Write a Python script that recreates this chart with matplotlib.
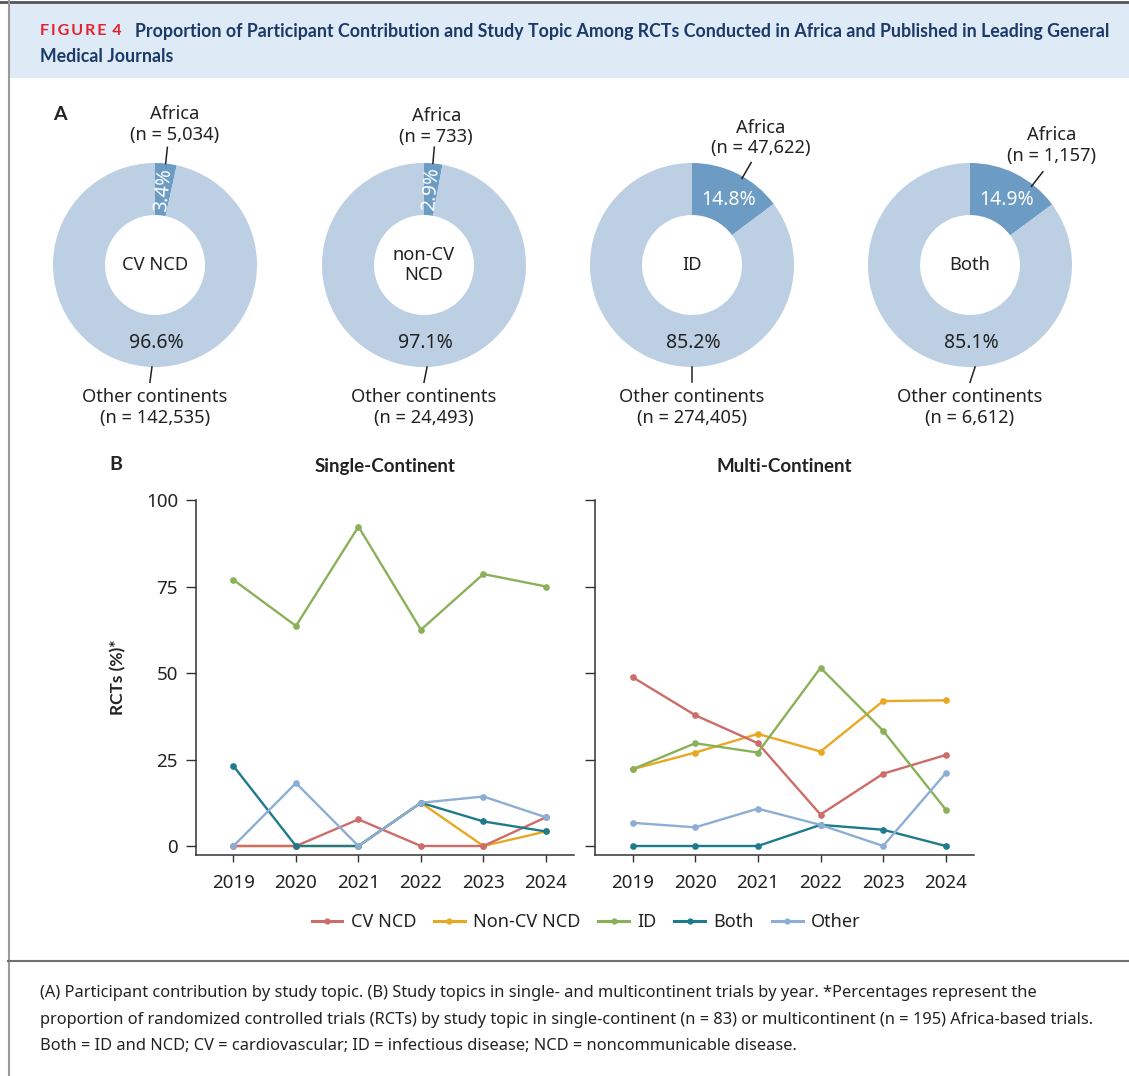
import matplotlib
matplotlib.use("Agg")
import matplotlib.pyplot as plt
from matplotlib.lines import Line2D
from matplotlib.patches import Rectangle
import numpy as np

plt.rcParams['font.family'] = ['Noto Sans', 'DejaVu Sans']
BOLD = ['Lato', 'DejaVu Sans']

# Panel A: participants by study topic
topics = ['CV NCD', 'non-CV\nNCD', 'ID', 'Both']
africa_n = [5034, 733, 47622, 1157]
other_n = [142535, 24493, 274405, 6612]

# Panel B: share of RCTs (%) by study topic and year
years = [2019, 2020, 2021, 2022, 2023, 2024]
series_names = ['CV NCD', 'Non-CV NCD', 'ID', 'Both', 'Other']
single = {
    'CV NCD':     [0, 0, 7.7, 0, 0, 8.3],
    'Non-CV NCD': [0, 0, 0, 12.5, 0, 4.2],
    'ID':         [76.9, 63.6, 92.3, 62.5, 78.6, 75.0],
    'Both':       [23.1, 0, 0, 12.5, 7.1, 4.2],
    'Other':      [0, 18.2, 0, 12.5, 14.3, 8.3],
}
multi = {
    'CV NCD':     [48.8, 37.8, 29.7, 9.1, 20.9, 26.3],
    'Non-CV NCD': [22.2, 27.0, 32.4, 27.3, 41.9, 42.1],
    'ID':         [22.2, 29.7, 27.0, 51.5, 33.3, 10.5],
    'Both':       [0, 0, 0, 6.1, 4.7, 0],
    'Other':      [6.7, 5.4, 10.8, 6.1, 0, 21.1],
}

colors = {'CV NCD': '#cc6d6a', 'Non-CV NCD': '#e9a823', 'ID': '#8ab15a',
          'Both': '#1e7b8c', 'Other': '#8daed4'}
zorders = {'Non-CV NCD': 2, 'CV NCD': 3, 'ID': 4, 'Both': 5, 'Other': 6}
dark_blue, light_blue = '#6c9bc4', '#bccfe3'
text_c = '#222222'

W, H = 1129, 1076
fig = plt.figure(figsize=(W / 100, H / 100), dpi=100)


def box(x0, y0, x1, y1):
    # pixel box (top-left origin) -> figure fraction rect
    return [x0 / W, 1 - y1 / H, (x1 - x0) / W, (y1 - y0) / H]


# frame, header band and caption divider
bg = fig.add_axes([0, 0, 1, 1])
bg.set_xlim(0, W)
bg.set_ylim(H, 0)
bg.axis('off')
bg.add_patch(Rectangle((8, 3), W - 8, 75, color='#deeaf6', lw=0))
bg.plot([0, W], [1.5, 1.5], color='#555555', lw=2)
bg.plot([8.5, 8.5], [0, H], color='#9a9a9a', lw=1.5)
bg.plot([8, W], [961, 961], color='#6e6e6e', lw=1.5)

bg.text(40, 31, '\u2009'.join('FIGURE') + '\u2009 4', color='#e4202f',
        fontsize=11.5, fontweight='bold', va='center', ha='left', family=BOLD)
bg.text(135, 31, 'Proportion of Participant Contribution and Study Topic Among RCTs '
        'Conducted in Africa and Published in Leading General',
        color='#1b3a6a', fontsize=12.75, fontweight='bold', va='center', ha='left',
        family=BOLD)
bg.text(40, 56, 'Medical Journals', color='#1b3a6a', fontsize=12.75,
        fontweight='bold', va='center', ha='left', family=BOLD)

caption = ['(A) Participant contribution by study topic. (B) Study topics in single- and '
           'multicontinent trials by year. *Percentages represent the',
           'proportion of randomized controlled trials (RCTs) by study topic in '
           'single-continent (n = 83) or multicontinent (n = 195) Africa-based trials.',
           'Both = ID and NCD; CV = cardiovascular; ID = infectious disease; '
           'NCD = noncommunicable disease.']
for i, line in enumerate(caption):
    bg.text(40, 993 + i * 26.5, line, fontsize=11.8, color=text_c, va='center',
            ha='left')

bg.text(60, 115, 'A', fontsize=14, fontweight='bold', va='center', ha='center',
        color=text_c, family=BOLD)
bg.text(116, 464, 'B', fontsize=14, fontweight='bold', va='center', ha='center',
        color=text_c, family=BOLD)

# Panel A donuts
centers_x = [155, 424, 692, 970]
cy, R = 265, 102
leader_deg = [84, 85, 60, 52]
africa_lbl = [(0.19, 1.38), (0.12, 1.36), (0.67, 1.245), (0.80, 1.17)]
other_top = [(-0.03, -1.0), (0.03, -1.0), (0.0, -1.0), (0.05, -1.0)]
other_bot = [(-0.05, -1.15), (0.0, -1.15), (0.0, -1.15), (0.0, -1.15)]

for i, cx in enumerate(centers_x):
    ax = fig.add_axes(box(cx - 135, cy - 170, cx + 135, cy + 170))
    ax.pie([africa_n[i], other_n[i]], colors=[dark_blue, light_blue],
           startangle=90, counterclock=False, radius=1,
           wedgeprops=dict(width=0.51, linewidth=0))
    ax.set_xlim(-135 / R, 135 / R)
    ax.set_ylim(-170 / R, 170 / R)
    ax.axis('off')

    frac = africa_n[i] / (africa_n[i] + other_n[i])
    mid = np.deg2rad(90 - 180 * frac)
    if frac < 0.05:
        ax.text(0.745 * np.cos(mid), 0.745 * np.sin(mid), f'{frac * 100:.1f}%',
                rotation=np.rad2deg(mid), color='white', fontsize=14,
                ha='center', va='center', rotation_mode='anchor')
    else:
        ax.text(0.36, 0.64, f'{frac * 100:.1f}%', color='white', fontsize=14,
                ha='center', va='center')
    ax.text(0.01, -0.76, f'{(1 - frac) * 100:.1f}%', color=text_c, fontsize=14,
            ha='center', va='center')
    ax.text(0, 0, topics[i], color=text_c, fontsize=13.2, ha='center',
            va='center', linespacing=1.1)

    a = np.deg2rad(leader_deg[i])
    r0 = 1.0 if frac < 0.05 else 0.98
    ax.plot([r0 * np.cos(a), 1.16 * np.cos(a)], [r0 * np.sin(a), 1.16 * np.sin(a)],
            color=text_c, lw=1.1)
    ax.text(*africa_lbl[i], f'Africa\n(n = {africa_n[i]:,})', color=text_c,
            fontsize=13.2, ha='center', va='center', linespacing=1.2)
    ax.plot([other_top[i][0], other_bot[i][0]], [other_top[i][1], other_bot[i][1]],
            color=text_c, lw=1.1)
    ax.text(0.0, -1.40, f'Other continents\n(n = {other_n[i]:,})', color=text_c,
            fontsize=13.2, ha='center', va='center', linespacing=1.2)

# Panel B line charts
axL = fig.add_axes(box(196, 500, 574, 855))
axR = fig.add_axes(box(595, 500, 974, 855))
for ax, data, title in [(axL, single, 'Single-Continent'),
                        (axR, multi, 'Multi-Continent')]:
    for name in series_names:
        ax.plot(years, data[name], color=colors[name], lw=1.7, marker='o',
                markersize=3.8, zorder=zorders[name], label=name, clip_on=False)
    ax.set_xlim(2018.4, 2024.45)
    ax.set_ylim(-2.6, 100)
    ax.set_xticks(years)
    ax.set_yticks([0, 25, 50, 75, 100])
    for s in ['top', 'right']:
        ax.spines[s].set_visible(False)
    for s in ['left', 'bottom']:
        ax.spines[s].set_color('#333333')
        ax.spines[s].set_linewidth(1.1)
    ax.tick_params(axis='x', length=5, width=1, pad=9, labelsize=13.5,
                   colors='#333333', labelcolor=text_c)
    ax.tick_params(axis='y', length=7, width=1, pad=6, labelsize=13.5,
                   colors='#333333', labelcolor=text_c)
    ax.set_title(title, fontsize=13.5, fontweight='bold', color=text_c, pad=20,
                 family=BOLD)
axR.tick_params(axis='y', labelleft=False)
axL.set_ylabel('RCTs (%)*', fontsize=12.5, fontweight='bold', color=text_c,
               labelpad=14, family=BOLD)

handles = [Line2D([], [], color=colors[n], lw=2.2, marker='o', markersize=3.5)
           for n in series_names]
fig.legend(handles, series_names, loc='center', ncol=5, frameon=False,
           bbox_to_anchor=(586 / W, 1 - 922 / H), fontsize=13, handlelength=1.7,
           columnspacing=1.0, handletextpad=0.45, labelcolor=text_c)

fig.savefig('out.png', dpi=100)
